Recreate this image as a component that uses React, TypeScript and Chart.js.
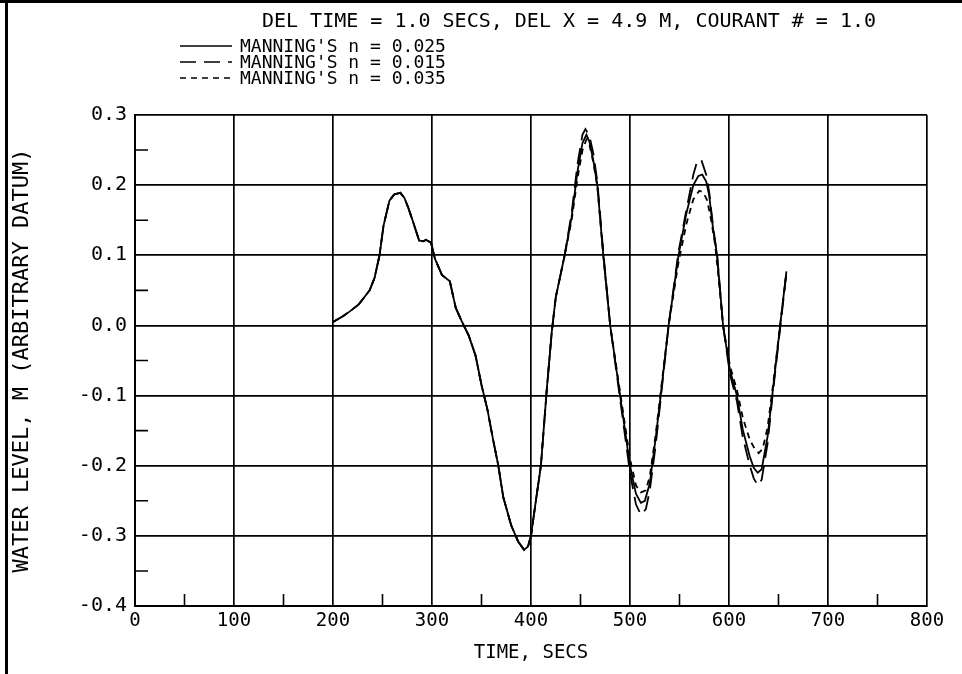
import React, { useEffect, useRef } from "react";
import { Chart, registerables } from "chart.js";

Chart.register(...registerables);

// ---- data ----
const titleText = "DEL TIME = 1.0 SECS, DEL X = 4.9 M, COURANT # = 1.0";
const seriesLabels = ["MANNING'S n = 0.025", "MANNING'S n = 0.015", "MANNING'S n = 0.035"];
const xAxisTitle = "TIME, SECS";
const yAxisTitle = "WATER LEVEL, M (ARBITRARY DATUM)";

// part common to all three runs (t <= 425 s)
const headTime = [200, 210, 217, 226, 237, 242, 247, 251, 257, 262, 268, 272, 276, 281, 287, 291, 294, 299, 303, 310, 318, 324, 330, 337, 344, 350, 356, 362, 367, 372, 380, 387, 393, 397, 400, 405, 410, 416, 421, 425];
const headLevel = [0.005, 0.013, 0.02, 0.03, 0.05, 0.068, 0.1, 0.142, 0.178, 0.187, 0.189, 0.182, 0.168, 0.147, 0.121, 0.12, 0.122, 0.118, 0.095, 0.072, 0.063, 0.025, 0.006, -0.014, -0.043, -0.085, -0.12, -0.165, -0.2, -0.245, -0.285, -0.308, -0.32, -0.315, -0.3, -0.249, -0.2, -0.09, -0.009, 0.04];

// n = 0.025 (solid)
const tailTime025 = [434, 441, 447, 452, 456, 459, 463, 467, 473, 480, 490, 500, 506, 511, 515, 520, 526, 531, 539, 549, 557, 564, 569, 573, 577, 580, 584, 588, 594, 601, 608, 614, 621, 625, 629, 633, 639, 644, 652, 658];
const tailLevel025 = [0.1, 0.154, 0.22, 0.26, 0.272, 0.262, 0.235, 0.2, 0.1, 0.0, -0.1, -0.2, -0.24, -0.253, -0.25, -0.225, -0.16, -0.1, 0.0, 0.1, 0.16, 0.2, 0.213, 0.215, 0.205, 0.185, 0.137, 0.1, 0.0, -0.064, -0.1, -0.149, -0.187, -0.203, -0.21, -0.205, -0.158, -0.096, 0.004, 0.077];

// n = 0.015 (long dash)
const tailTime015 = [434, 441, 447, 452, 455, 459, 463, 467, 473, 480, 490, 500, 506, 511, 516, 520, 526, 531, 539, 549, 557, 564, 568, 572, 577, 580, 584, 588, 594, 601, 608, 614, 621, 625, 629, 633, 639, 644, 652, 658];
const tailLevel015 = [0.1, 0.16, 0.23, 0.272, 0.28, 0.27, 0.245, 0.205, 0.105, 0.0, -0.105, -0.21, -0.255, -0.27, -0.262, -0.235, -0.17, -0.105, 0.0, 0.105, 0.165, 0.215, 0.235, 0.236, 0.215, 0.19, 0.14, 0.1, 0.0, -0.07, -0.108, -0.16, -0.2, -0.218, -0.228, -0.22, -0.168, -0.1, 0.0, 0.075];

// n = 0.035 (short dash)
const tailTime035 = [434, 441, 447, 452, 456, 459, 463, 467, 473, 480, 490, 500, 506, 511, 516, 520, 526, 531, 539, 549, 557, 564, 570, 574, 578, 582, 586, 590, 594, 601, 608, 614, 621, 626, 630, 634, 639, 644, 652, 658];
const tailLevel035 = [0.1, 0.15, 0.21, 0.25, 0.265, 0.258, 0.232, 0.198, 0.1, 0.0, -0.095, -0.19, -0.228, -0.238, -0.235, -0.215, -0.155, -0.095, 0.0, 0.09, 0.145, 0.18, 0.192, 0.19, 0.178, 0.15, 0.115, 0.06, 0.0, -0.058, -0.092, -0.132, -0.163, -0.176, -0.182, -0.176, -0.145, -0.09, 0.005, 0.075];

const xMin = 0, xMax = 800, xStep = 100, xMinorStep = 50;
const yMin = -0.4, yMax = 0.3, yStep = 0.1, yMinorStep = 0.05;

const dashes: number[][] = [[], [16, 8], [6, 5]];

const FONT = "'DejaVu Sans Mono', monospace";

function buildPoints(tt: number[], vv: number[]) {
  const xs = headTime.concat(tt);
  const ys = headLevel.concat(vv);
  return xs.map((x, i) => ({ x, y: ys[i] }));
}

const decorPlugin = {
  id: "decor",
  beforeDraw(chart: any) {
    const { ctx, width, height } = chart;
    ctx.save();
    ctx.fillStyle = "#fff";
    ctx.fillRect(0, 0, width, height);
    ctx.restore();
  },
  afterDraw(chart: any) {
    const { ctx, chartArea, scales, width, height } = chart;
    const xs = scales.x, ys = scales.y;
    ctx.save();
    // frame of the sheet
    ctx.fillStyle = "#000";
    ctx.fillRect(0, 0, width, 3);
    ctx.fillRect(5, 0, 3, height);
    // minor ticks inside plot
    ctx.strokeStyle = "#000";
    ctx.lineWidth = 1.6;
    ctx.beginPath();
    for (let t = xMin + xMinorStep; t < xMax; t += xStep) {
      const px = xs.getPixelForValue(t);
      ctx.moveTo(px, chartArea.bottom);
      ctx.lineTo(px, chartArea.bottom - 12);
    }
    for (let v = yMin + yMinorStep; v < yMax - 1e-9; v += yStep) {
      const py = ys.getPixelForValue(v);
      ctx.moveTo(chartArea.left, py);
      ctx.lineTo(chartArea.left + 13, py);
    }
    ctx.stroke();
    // title
    ctx.fillStyle = "#000";
    ctx.font = "20px " + FONT;
    ctx.textAlign = "center";
    ctx.textBaseline = "middle";
    ctx.fillText(titleText, 569, 22);
    // legend
    ctx.font = "18px " + FONT;
    ctx.textAlign = "left";
    chart.data.datasets.forEach((ds: any, i: number) => {
      const y = 46 + i * 16;
      ctx.setLineDash(ds.borderDash || []);
      ctx.lineWidth = 1.6;
      ctx.beginPath();
      ctx.moveTo(180, y);
      ctx.lineTo(232, y);
      ctx.stroke();
      ctx.setLineDash([]);
      ctx.fillText(ds.label, 240, y + 1);
    });
    ctx.restore();
  },
};

export default function App() {
  const ref = useRef<HTMLCanvasElement>(null);
  useEffect(() => {
    const tails = [
      [tailTime025, tailLevel025],
      [tailTime015, tailLevel015],
      [tailTime035, tailLevel035],
    ];
    const chart = new Chart(ref.current as HTMLCanvasElement, {
      type: "line",
      data: {
        datasets: tails.map((tl, i) => ({
          label: seriesLabels[i],
          data: buildPoints(tl[0], tl[1]),
          borderColor: "#000",
          borderWidth: 1.8,
          borderDash: dashes[i],
          pointRadius: 0,
          tension: 0,
          fill: false,
        })),
      },
      options: {
        animation: false,
        responsive: true,
        maintainAspectRatio: false,
        layout: { padding: { top: 115, right: 35, left: 0, bottom: 0 } },
        plugins: {
          legend: { display: false },
          title: { display: false },
          tooltip: { enabled: false },
        },
        scales: {
          x: {
            type: "linear",
            min: xMin,
            max: xMax,
            afterFit: (s: any) => { s.height = 68; },
            ticks: {
              stepSize: xStep,
              color: "#000",
              font: { family: FONT, size: 19 },
              padding: 4,
              maxRotation: 0,
              callback: (v: any) => String(Math.round(Number(v))),
            },
            grid: { color: "#000", lineWidth: 1.7, drawTicks: false },
            border: { color: "#000", width: 2 },
            title: {
              display: true,
              text: xAxisTitle,
              color: "#000",
              font: { family: FONT, size: 19 },
              padding: { top: 0, bottom: 10 },
            },
          },
          y: {
            type: "linear",
            min: yMin,
            max: yMax,
            afterFit: (s: any) => { s.width = 135; },
            ticks: {
              stepSize: yStep,
              color: "#000",
              font: { family: FONT, size: 20 },
              padding: 8,
              callback: (v: any) => {
                const n = Number(v);
                return (Math.abs(n) < 1e-9 ? 0 : n).toFixed(1);
              },
            },
            grid: { color: "#000", lineWidth: 1.7, drawTicks: false },
            border: { color: "#000", width: 2 },
            title: {
              display: true,
              text: yAxisTitle,
              color: "#000",
              font: { family: FONT, size: 22 },
              padding: { top: 9, bottom: 0 },
            },
          },
        },
      },
      plugins: [decorPlugin],
    } as any);
    return () => chart.destroy();
  }, []);
  return (
    <div style={{ position: "fixed", left: 0, top: 0, width: 962, height: 674, background: "#fff" }}>
      <canvas ref={ref} />
    </div>
  );
}
